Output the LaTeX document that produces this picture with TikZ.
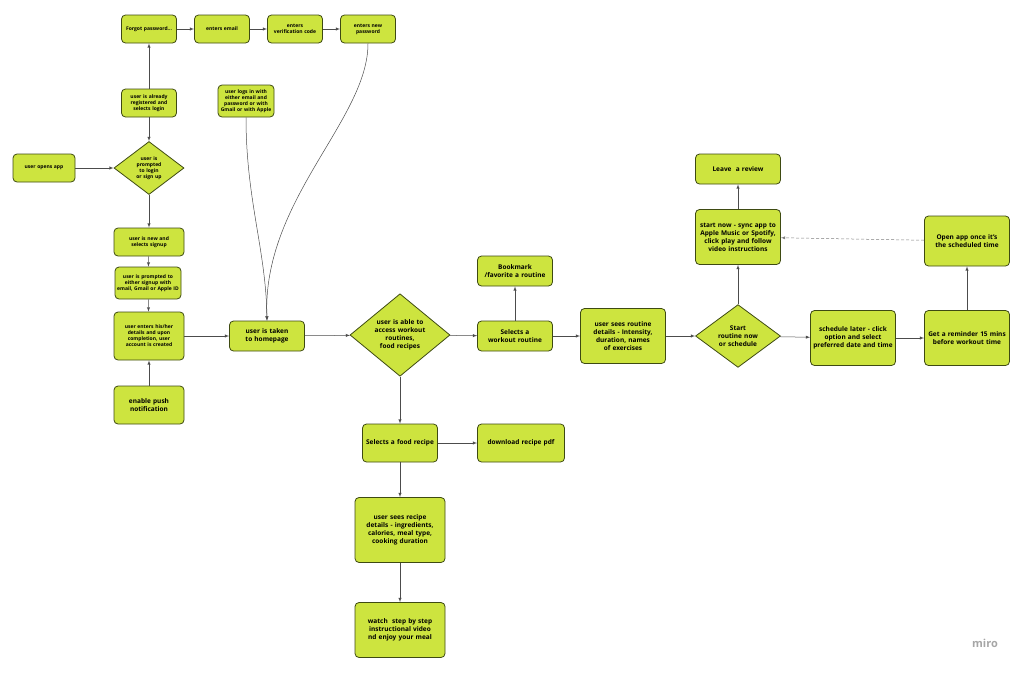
\documentclass[tikz,border=0pt]{standalone}
\usetikzlibrary{shapes.geometric}
\usepackage{fontspec}
\setmainfont{Open Sans}
\definecolor{lime}{HTML}{CDE43F}
\definecolor{limeborder}{HTML}{3E4A12}
\tikzset{
  box/.style = {draw=limeborder, fill=lime, rounded corners=4pt, line width=0.8pt,
                align=center, font=\bfseries\fontsize{5}{6}\selectfont, inner sep=1pt},
  bigbox/.style = {box, font=\bfseries\fontsize{6.5}{8}\selectfont},
  dia/.style = {draw=limeborder, fill=lime, diamond, line width=0.8pt, aspect=1,
                align=center, inner sep=0pt},
  link/.style = {draw=black!70, line width=0.5pt, -latex}
}
\hyphenpenalty=10000
\exhyphenpenalty=10000
\begin{document}
\begin{tikzpicture}[x=1pt, y=-1pt]
  \useasboundingbox (0,0) rectangle (1024,672);
  % login and sign up
  \node[box, minimum width=55, minimum height=28, text width=52] (forgot) at (149,29) {Forgot password...};
  \node[box, minimum width=55, minimum height=28, text width=52] (email) at (222,29) {enters email};
  \node[box, minimum width=55, minimum height=28, text width=52] (verif) at (295,29) {enters verification code};
  \node[box, minimum width=55, minimum height=28, text width=52] (newpw) at (368,29) {enters new password};
  \node[box, minimum width=55, minimum height=28, text width=52] (registered) at (149,103) {user is already registered and selects login};
  \node[box, minimum width=55, minimum height=32, text width=54] (logs) at (246,101) {user logs in with either email and password or with Gmail or with Apple};
  \node[box, minimum width=62, minimum height=28, text width=58] (opens) at (44,168) {user opens app};
  \node[dia, minimum width=70, text width=30, font=\bfseries\fontsize{5}{6}\selectfont] (prompt) at (149,168) {user is prompted to login or sign up};
  \node[box, minimum width=70, minimum height=28, text width=66] (newsign) at (149,242) {user is new and selects signup};
  \node[box, minimum width=65, minimum height=32, text width=64] (promptsign) at (148,283) {user is prompted to either signup with email, Gmail or Apple ID};
  \node[box, minimum width=70, minimum height=48, text width=64] (enters) at (149,336) {user enters his/her details and upon completion, user account is created};
  \node[bigbox, minimum width=70, minimum height=38, text width=64] (push) at (149,405) {enable push notification};
  \node[bigbox, minimum width=75, minimum height=30, text width=70] (home) at (267,336) {user is taken to homepage};
  % main hub
  \node[dia, minimum width=100, text width=52, font=\bfseries\fontsize{6.5}{8}\selectfont] (access) at (400,335) {user is able to access workout routines, food recipes};
  \node[bigbox, minimum width=75, minimum height=30, text width=70] (workout) at (515,336) {Selects a workout routine};
  \node[bigbox, minimum width=75, minimum height=30, text width=70] (bookmark) at (515,271) {Bookmark /favorite a routine};
  \node[bigbox, minimum width=85, minimum height=55, text width=80] (details) at (623,336) {user sees routine details - Intensity, duration, names of exercises};
  \node[dia, minimum width=85, text width=42, font=\bfseries\fontsize{6.5}{8}\selectfont] (start) at (738,336) {Start routine now or schedule};
  \node[bigbox, minimum width=85, minimum height=55, text width=82] (startnow) at (738,237) {start now - sync app to Apple Music or Spotify, click play and follow video instructions};
  \node[bigbox, minimum width=85, minimum height=30, text width=80] (leave) at (738,169) {Leave~ a review};
  \node[bigbox, minimum width=85, minimum height=55, text width=80] (later) at (853,338) {schedule later - click option and select preferred date and time};
  \node[bigbox, minimum width=85, minimum height=55, text width=80] (remind) at (967,338) {Get a reminder 15 mins before workout time};
  \node[bigbox, minimum width=85, minimum height=50, text width=82] (openapp) at (967,241) {Open app once it's the scheduled time};
  % recipes
  \node[bigbox, minimum width=75, minimum height=38, text width=70] (recipe) at (400,443) {Selects a food recipe};
  \node[bigbox, minimum width=87, minimum height=38, text width=82] (pdf) at (521,443) {download recipe pdf};
  \node[bigbox, minimum width=90, minimum height=65, text width=84] (recdet) at (400,530) {user sees recipe details - ingredients, calories, meal type, cooking duration};
  \node[bigbox, minimum width=90, minimum height=55, text width=84] (watch) at (400,630) {watch~ step by step instructional video nd enjoy your meal};
  \node[text=black!35, font=\bfseries\fontsize{11}{12}\selectfont] (miro) at (985,643) {miro};

  \draw[link] (opens) -- (prompt);
  \draw[link] (registered) -- (prompt);
  \draw[link] (registered) -- (forgot);
  \draw[link] (prompt) -- (newsign);
  \draw[link] (newsign) -- (promptsign);
  \draw[link] (promptsign) -- (enters);
  \draw[link] (push) -- (enters);
  \draw[link] (enters) -- (home);
  \draw[link] (forgot) -- (email);
  \draw[link] (email) -- (verif);
  \draw[link] (verif) -- (newpw);
  \draw[link] (newpw.south) .. controls (368,120) and (262,200) .. (home.north);
  \draw[link] (logs.south) .. controls (246,200) and (266,250) .. (home.north);
  \draw[link] (home) -- (access);
  \draw[link] (access) -- (workout);
  \draw[link] (workout) -- (bookmark);
  \draw[link] (access) -- (recipe);
  \draw[link] (recipe) -- (pdf);
  \draw[link] (recipe) -- (recdet);
  \draw[link] (recdet) -- (watch);
  \draw[link] (workout) -- (details);
  \draw[link] (details) -- (start);
  \draw[link] (start) -- (startnow);
  \draw[link] (startnow) -- (leave);
  \draw[link] (start) -- (later);
  \draw[link] (later) -- (remind);
  \draw[link] (remind) -- (openapp);
  \draw[link, densely dashed, draw=black!50] (openapp) -- (startnow);
\end{tikzpicture}
\end{document}
